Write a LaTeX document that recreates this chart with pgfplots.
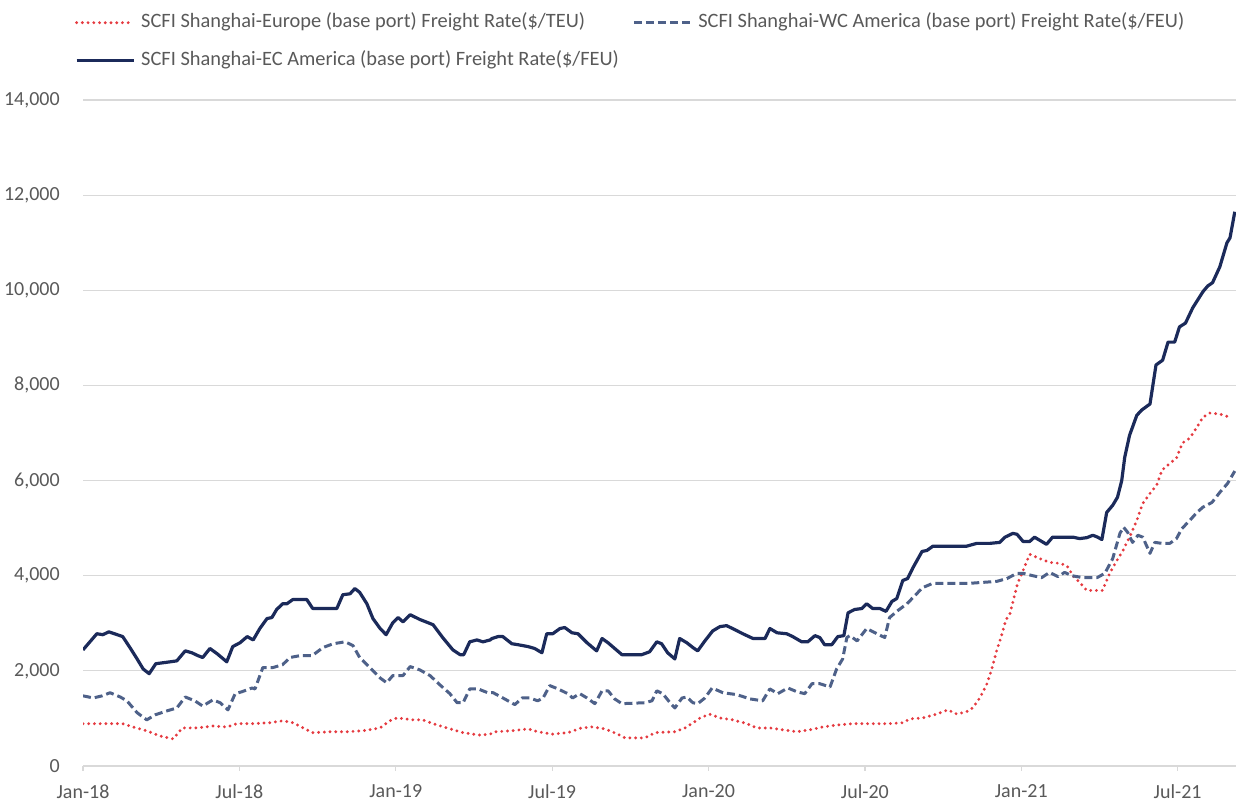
\documentclass[border=0pt]{standalone}
\usepackage{pgfplots}
\pgfplotsset{compat=1.18}
\usepackage{fontspec}
\setmainfont{Carlito}

\definecolor{ecnavy}{HTML}{1B2A5A}
\definecolor{wcslate}{HTML}{4E6189}
\definecolor{eured}{HTML}{E53A40}
\definecolor{gridgray}{HTML}{D9D9D9}
\definecolor{labelgray}{HTML}{595959}

% x = weeks since the first SCFI release of January 2018
\begin{document}
\begin{tikzpicture}
\path[use as bounding box] (0pt,0pt) rectangle (927pt,601.5pt);
\begin{axis}[
  at={(62.25pt,27pt)}, anchor=south west,
  width=864.75pt, height=499.5pt, scale only axis,
  xmin=0, xmax=191.7, ymin=0, ymax=14000,
  axis lines*=left,
  y axis line style={draw=none},
  x axis line style={draw=gridgray, line width=0.9pt},
  xtick={0,26,52,78,104,130,156,182},
  xticklabels={Jan-18,Jul-18,Jan-19,Jul-19,Jan-20,Jul-20,Jan-21,Jul-21},
  ytick={0,2000,...,14000},
  scaled y ticks=false,
  /pgf/number format/1000 sep={,},
  /pgf/number format/assume math mode=true,
  tick align=outside,
  major tick length=3.75pt,
  xtick style={draw=gridgray, line width=0.9pt},
  ytick style={draw=none},
  ymajorgrids,
  grid style={draw=gridgray, line width=0.9pt},
  tick label style={font=\fontsize{15}{18}\selectfont, text=labelgray},
  yticklabel style={anchor=east, inner sep=0pt, xshift=-13.5pt},
  xticklabel style={anchor=north, inner sep=0pt, yshift=-10pt},
  legend columns=2,
  legend style={at={(-0.00694,1.1306)}, anchor=north west, draw=none, fill=none,
    inner sep=0pt, outer sep=0pt, row sep=14pt,
    font=\fontsize{15.3}{18}\selectfont, text=labelgray,
    nodes={inner sep=0pt, text height=11pt, text depth=3.5pt},
    /tikz/every odd column/.append style={column sep=4.5pt},
    /tikz/every even column/.append style={column sep=10pt}},
  legend cell align=left,
  legend image code/.code={\draw[#1] (0pt,0pt) -- (42.75pt,0pt);},
  every axis plot/.append style={line join=round},
]

\addplot[eured, line width=2.4pt, line cap=round, dash pattern=on 0pt off 4.3pt] table {
0.0 890
6.6 890
8.3 820
10.6 740
12.8 630
15.0 570
16.5 800
18.9 800
21.6 840
23.9 820
25.6 890
28.3 890
31.1 910
33.2 950
34.9 910
36.6 800
38.2 700
41.1 720
43.9 720
46.5 740
49.4 800
51.0 950
52.2 1010
54.9 970
56.5 970
58.2 890
60.5 800
63.2 700
66.0 650
67.7 670
68.5 720
71.3 740
74.0 780
75.6 720
78.0 670
80.6 700
82.9 800
84.6 820
86.8 780
88.9 670
90.1 590
93.4 590
95.1 700
98.4 720
100.1 800
101.7 930
102.6 1010
104.2 1090
105.9 1010
108.0 970
110.4 890
112.0 800
114.2 800
116.4 760
118.7 720
120.8 760
123.0 820
125.3 860
128.0 890
134.1 890
136.3 910
137.5 990
139.6 1010
141.9 1090
143.8 1180
145.3 1090
146.9 1140
147.9 1220
149.1 1430
150.3 1730
151.1 2040
151.9 2420
152.8 2780
153.4 3060
154.1 3200
155.4 3840
156.3 4110
157.4 4450
159.1 4360
160.7 4280
162.4 4260
163.6 4210
164.6 4000
165.7 3860
166.9 3690
169.5 3690
170.7 4050
171.9 4320
172.9 4530
174.0 4810
175.2 5160
176.2 5520
177.4 5730
178.5 5900
179.4 6220
180.7 6360
181.8 6470
182.8 6790
184.0 6890
185.2 7120
186.2 7330
187.3 7420
189.0 7400
190.7 7330
};
\addlegendentry{SCFI Shanghai-Europe (base port) Freight Rate(\$/TEU)}

\addplot[wcslate, line width=2.25pt, line cap=butt, dash pattern=on 6pt off 3pt] table {
0.0 1475
1.7 1430
3.2 1475
4.5 1540
6.2 1450
7.3 1370
9.0 1120
10.6 970
12.0 1075
14.0 1160
15.6 1220
17.0 1450
18.6 1370
19.9 1260
21.6 1390
22.8 1330
24.1 1180
25.3 1520
26.4 1560
28.1 1640
28.6 1620
29.9 2070
31.6 2070
33.2 2130
34.4 2280
36.1 2320
38.1 2320
39.9 2490
41.6 2570
43.6 2610
44.9 2530
46.0 2280
47.7 2070
49.4 1850
50.5 1750
51.5 1900
53.2 1900
54.4 2090
56.0 2020
57.7 1900
59.3 1710
61.0 1520
62.2 1330
63.2 1330
64.3 1620
65.7 1620
67.3 1540
68.2 1540
70.1 1410
71.8 1290
73.0 1430
74.3 1430
75.6 1370
76.5 1430
77.6 1690
79.0 1620
80.6 1520
81.4 1430
82.6 1520
83.8 1430
85.1 1310
86.3 1580
87.3 1580
88.4 1410
89.6 1310
93.4 1330
94.6 1370
95.4 1580
96.4 1520
97.6 1330
98.4 1220
99.6 1430
100.4 1450
101.4 1330
102.2 1310
103.4 1430
104.6 1640
106.4 1540
108.7 1500
110.9 1410
113.0 1370
114.2 1620
115.5 1520
117.2 1640
118.7 1560
120.0 1520
121.2 1730
122.5 1730
124.2 1660
125.3 2040
126.3 2250
127.0 2700
127.5 2740
128.7 2630
130.3 2890
132.0 2780
133.3 2700
134.1 3120
135.5 3270
137.0 3410
138.6 3620
139.6 3750
141.3 3840
147.4 3840
149.6 3860
151.9 3880
153.6 3940
155.3 4050
156.3 4050
157.9 4000
159.4 3960
160.7 4070
162.1 3980
163.2 4070
164.4 4000
166.2 3960
168.6 3960
169.9 4050
171.2 4360
172.4 4890
173.0 5020
173.7 4910
174.5 4700
175.4 4850
176.2 4810
177.4 4470
178.2 4700
179.4 4680
180.7 4680
181.8 4780
182.7 4990
184.0 5160
185.2 5330
186.2 5440
187.7 5540
189.0 5750
190.3 5940
191.5 6200
};
\addlegendentry{SCFI Shanghai-WC America (base port) Freight Rate(\$/FEU)}

\addplot[ecnavy, line width=2.4pt] table {
0.0 2440
2.3 2780
3.3 2760
4.3 2820
5.7 2760
6.6 2720
7.8 2490
9.0 2250
10.0 2040
11.0 1940
12.1 2150
13.3 2170
14.5 2190
15.6 2210
17.0 2420
18.1 2380
19.1 2320
19.9 2280
21.1 2470
22.3 2360
23.9 2190
24.9 2510
26.1 2590
27.3 2720
28.3 2650
29.4 2890
30.6 3100
31.4 3120
32.2 3290
33.2 3410
33.9 3410
34.9 3500
37.2 3500
38.2 3310
42.2 3310
43.2 3600
44.4 3620
45.2 3730
46.0 3650
47.2 3410
48.2 3100
49.4 2890
50.4 2760
51.5 3010
52.4 3120
53.2 3030
54.4 3180
56.0 3080
58.2 2970
59.8 2700
61.5 2440
62.7 2340
63.3 2340
64.3 2610
65.5 2650
66.5 2610
67.7 2650
68.0 2680
69.0 2720
69.8 2720
71.3 2570
72.3 2550
74.0 2510
75.1 2470
76.3 2380
77.1 2780
78.1 2780
79.3 2890
80.1 2910
81.3 2800
82.3 2780
83.8 2590
85.4 2420
86.3 2680
87.3 2590
89.6 2340
92.9 2340
94.2 2400
95.4 2610
96.2 2570
97.2 2380
98.4 2250
99.2 2680
100.4 2590
101.4 2490
102.2 2420
103.4 2630
104.7 2840
105.9 2930
107.0 2950
108.0 2890
109.7 2780
111.4 2680
113.4 2680
114.2 2890
115.4 2800
117.0 2780
118.0 2720
119.5 2610
120.5 2610
121.7 2740
122.5 2700
123.3 2550
124.5 2550
125.5 2720
126.5 2740
127.2 3220
128.3 3290
129.5 3310
130.3 3410
131.3 3310
132.5 3310
133.5 3250
134.5 3460
135.3 3520
136.3 3900
137.1 3940
138.0 4170
139.5 4510
140.3 4530
141.3 4620
146.9 4620
148.6 4680
150.8 4680
152.4 4700
153.3 4810
154.6 4890
155.3 4870
156.3 4720
157.4 4720
158.2 4810
159.4 4720
160.2 4660
161.2 4810
164.6 4810
165.7 4780
166.9 4800
167.9 4850
168.7 4810
169.4 4760
170.2 5330
171.2 5480
172.0 5650
172.7 6000
173.2 6490
174.0 6950
175.2 7370
176.0 7480
177.4 7610
178.4 8430
179.5 8530
180.4 8910
181.5 8910
182.3 9230
183.3 9310
184.5 9630
186.2 9970
187.0 10090
187.8 10160
189.0 10490
190.2 11000
190.7 11100
191.5 11650
};
\addlegendentry{SCFI Shanghai-EC America (base port) Freight Rate(\$/FEU)}

\end{axis}
\end{tikzpicture}
\end{document}
